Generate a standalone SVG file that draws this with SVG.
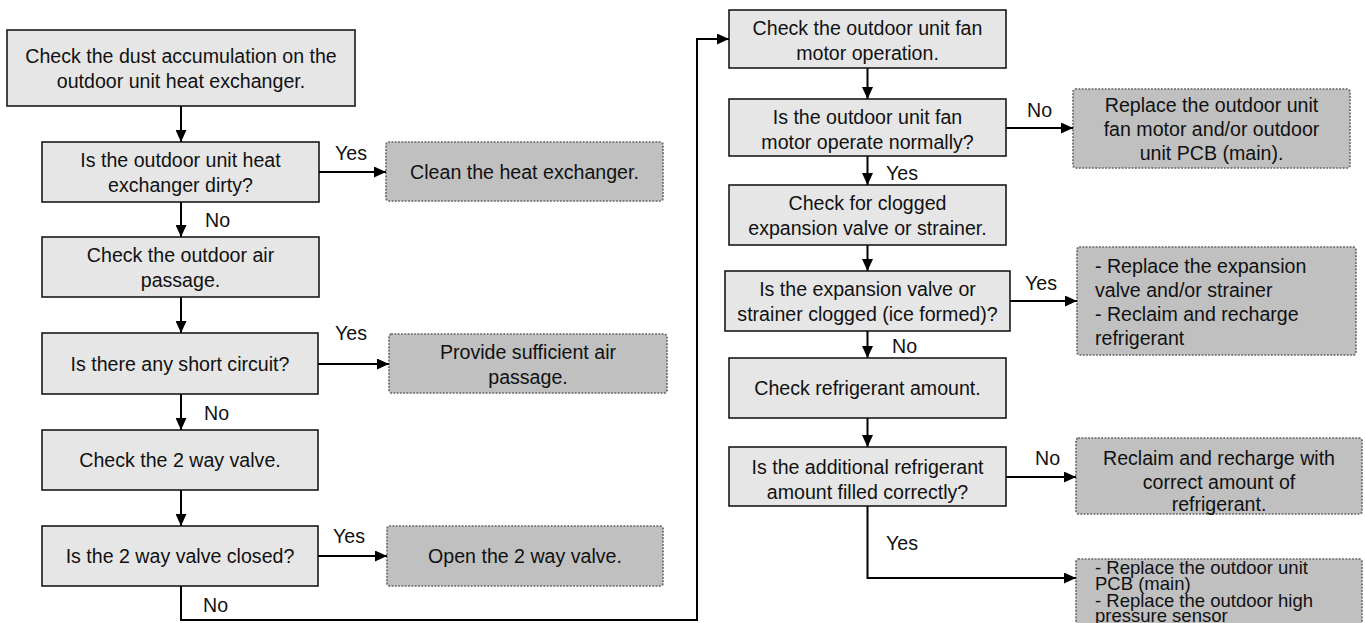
<svg xmlns="http://www.w3.org/2000/svg" width="1365" height="623" viewBox="0 0 1365 623">
  <defs>
    <marker id="arr" markerUnits="userSpaceOnUse" markerWidth="13" markerHeight="11" refX="12" refY="5.5" orient="auto">
      <path d="M0,0 L12,5.5 L0,11 z" fill="#000"/>
    </marker>
    <style>
      text { font-family: "Liberation Sans", Arial, sans-serif; font-size: 19.6px; fill: #111; }
      .c { text-anchor: middle; }
      .tight { font-size: 18.5px; }
      .proc { fill: #e6e6e6; stroke: #1a1a1a; stroke-width: 1.6; }
      .res { fill: #c0c0c0; stroke: #7a7a7a; stroke-width: 2.2; stroke-dasharray: 0.1 3.2; stroke-linecap: round; }
      .ln { fill: none; stroke: #000; stroke-width: 2; }
    </style>
  </defs>
  <rect width="1365" height="623" fill="#fff"/>

  <!-- Left column -->
  <g id="n1"><rect class="proc" x="7" y="30" width="348" height="76"/>
    <text class="c" x="181" y="63">Check the dust accumulation on the</text>
    <text class="c" x="181" y="88">outdoor unit heat exchanger.</text></g>
  <g id="n2"><rect class="proc" x="42" y="142" width="277" height="60"/>
    <text class="c" x="180.5" y="166.5">Is the outdoor unit heat</text>
    <text class="c" x="180.5" y="191.5">exchanger dirty?</text></g>
  <g id="n3"><rect class="proc" x="42" y="237" width="277" height="60"/>
    <text class="c" x="180.5" y="262">Check the outdoor air</text>
    <text class="c" x="180.5" y="287">passage.</text></g>
  <g id="n4"><rect class="proc" x="42" y="333" width="276" height="61"/>
    <text class="c" x="180" y="370.5">Is there any short circuit?</text></g>
  <g id="n5"><rect class="proc" x="42" y="430" width="276" height="60"/>
    <text class="c" x="180" y="467">Check the 2 way valve.</text></g>
  <g id="n6"><rect class="proc" x="42" y="526" width="276" height="60"/>
    <text class="c" x="180" y="563">Is the 2 way valve closed?</text></g>

  <!-- Middle results -->
  <g id="r1"><rect class="res" x="386" y="142" width="277" height="59" rx="3"/>
    <text class="c" x="524.5" y="178.5">Clean the heat exchanger.</text></g>
  <g id="r2"><rect class="res" x="389" y="334" width="278" height="59" rx="3"/>
    <text class="c" x="528" y="359">Provide sufficient air</text>
    <text class="c" x="528" y="384">passage.</text></g>
  <g id="r3"><rect class="res" x="387" y="526" width="276" height="60" rx="3"/>
    <text class="c" x="525" y="563">Open the 2 way valve.</text></g>

  <!-- Right column -->
  <g id="m1"><rect class="proc" x="729" y="10" width="277" height="58"/>
    <text class="c" x="867.5" y="35">Check the outdoor unit fan</text>
    <text class="c" x="867.5" y="60">motor operation.</text></g>
  <g id="m2"><rect class="proc" x="729" y="99" width="277" height="57"/>
    <text class="c" x="867.5" y="123.5">Is the outdoor unit fan</text>
    <text class="c" x="867.5" y="148.5">motor operate normally?</text></g>
  <g id="m3"><rect class="proc" x="729" y="185" width="277" height="60"/>
    <text class="c" x="867.5" y="210">Check for clogged</text>
    <text class="c" x="867.5" y="235">expansion valve or strainer.</text></g>
  <g id="m4"><rect class="proc" x="725" y="271" width="285" height="60"/>
    <text class="c" x="867.5" y="296">Is the expansion valve or</text>
    <text class="c" x="867.5" y="321">strainer clogged (ice formed)?</text></g>
  <g id="m5"><rect class="proc" x="729" y="358" width="277" height="60"/>
    <text class="c" x="867.5" y="395">Check refrigerant amount.</text></g>
  <g id="m6"><rect class="proc" x="729" y="447" width="277" height="59"/>
    <text class="c" x="867.5" y="473.5">Is the additional refrigerant</text>
    <text class="c" x="867.5" y="498.5">amount filled correctly?</text></g>

  <!-- Right results -->
  <g id="s1"><rect class="res" x="1073" y="89" width="277" height="79" rx="3"/>
    <text class="c" x="1211.5" y="111.5">Replace the outdoor unit</text>
    <text class="c" x="1211.5" y="135.5">fan motor and/or outdoor</text>
    <text class="c" x="1211.5" y="159.5">unit PCB (main).</text></g>
  <g id="s2"><rect class="res" x="1077" y="247" width="279" height="108" rx="3"/>
    <text x="1095" y="273">- Replace the expansion</text>
    <text x="1095" y="297">valve and/or strainer</text>
    <text x="1095" y="321">- Reclaim and recharge</text>
    <text x="1095" y="345">refrigerant</text></g>
  <g id="s3"><rect class="res" x="1076" y="438" width="286" height="76" rx="3"/>
    <text class="c" x="1219" y="465">Reclaim and recharge with</text>
    <text class="c" x="1219" y="488.5">correct amount of</text>
    <text class="c" x="1219" y="511">refrigerant.</text></g>
  <g id="s4"><rect class="res" x="1076" y="559" width="286" height="90" rx="3"/>
    <text class="tight" x="1095" y="573.5">- Replace the outdoor unit</text>
    <text class="tight" x="1095" y="590">PCB (main)</text>
    <text class="tight" x="1095" y="606.5">- Replace the outdoor high</text>
    <text class="tight" x="1095" y="622">pressure sensor</text></g>

  <!-- Connectors -->
  <g id="connectors">
    <path class="ln" d="M181,106 V142" marker-end="url(#arr)"/>
    <path class="ln" d="M319,172 H386" marker-end="url(#arr)"/>
    <path class="ln" d="M181,202 V237" marker-end="url(#arr)"/>
    <path class="ln" d="M181,297 V333" marker-end="url(#arr)"/>
    <path class="ln" d="M318,364 H389" marker-end="url(#arr)"/>
    <path class="ln" d="M181,394 V430" marker-end="url(#arr)"/>
    <path class="ln" d="M181,490 V526" marker-end="url(#arr)"/>
    <path class="ln" d="M318,556 H387" marker-end="url(#arr)"/>
    <path class="ln" d="M181,586 V620 H697 V39 H729" marker-end="url(#arr)"/>
    <path class="ln" d="M867.5,68 V99" marker-end="url(#arr)"/>
    <path class="ln" d="M1006,128 H1073" marker-end="url(#arr)"/>
    <path class="ln" d="M867.5,156 V185" marker-end="url(#arr)"/>
    <path class="ln" d="M867.5,245 V271" marker-end="url(#arr)"/>
    <path class="ln" d="M1010,301 H1077" marker-end="url(#arr)"/>
    <path class="ln" d="M867.5,331 V358" marker-end="url(#arr)"/>
    <path class="ln" d="M867.5,418 V447" marker-end="url(#arr)"/>
    <path class="ln" d="M1006,477 H1076" marker-end="url(#arr)"/>
    <path class="ln" d="M867.5,506 V578 H1076" marker-end="url(#arr)"/>
    <text x="335" y="160">Yes</text>
    <text x="205" y="227">No</text>
    <text x="335" y="340">Yes</text>
    <text x="204" y="420">No</text>
    <text x="333" y="543">Yes</text>
    <text x="203" y="612">No</text>
    <text x="1027" y="117">No</text>
    <text x="886" y="180">Yes</text>
    <text x="1025" y="290">Yes</text>
    <text x="892" y="353">No</text>
    <text x="1035" y="465">No</text>
    <text x="886" y="550">Yes</text>
  </g>
</svg>
